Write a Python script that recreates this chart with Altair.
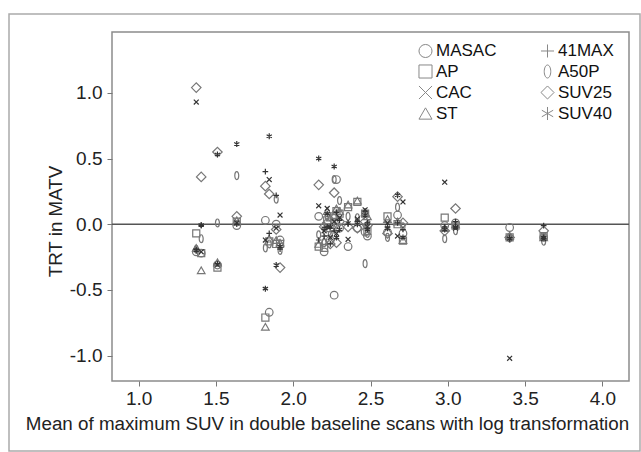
import altair as alt
import pandas as pd

# Mean of log max SUV for each lesion (x) and test-retest values per method
x_mean = [1.373, 1.405, 1.51, 1.635, 1.82, 1.845, 1.89, 1.915,
          2.165, 2.20, 2.22, 2.24, 2.265, 2.28, 2.30, 2.355, 2.415,
          2.465, 2.48, 2.61, 2.675, 2.71, 2.98, 3.05, 3.40, 3.62]

masac = [-0.21, -0.22, -0.31, -0.01, 0.03, -0.67, 0.00, -0.12,
         0.06, -0.21, -0.06, -0.12, -0.54, 0.34, -0.03, -0.17, -0.03,
         -0.06, -0.09, -0.06, 0.07, -0.07, -0.01, 0.01, -0.025, -0.10]
ap = [-0.07, -0.22, -0.33, 0.02, -0.71, -0.13, -0.15, -0.15,
      -0.17, -0.18, 0.03, -0.03, 0.06, 0.10, 0.08, 0.13, 0.17,
      0.08, -0.05, 0.06, 0.00, -0.125, 0.05, -0.01, -0.10, -0.09]
cac = [0.93, -0.21, -0.31, 0.01, -0.12, 0.34, -0.03, 0.07,
       0.14, -0.05, 0.12, -0.10, 0.02, -0.07, 0.05, -0.115, 0.04,
       0.11, -0.02, 0.01, -0.09, 0.17, 0.32, -0.03, -1.02, -0.11]
st = [-0.18, -0.35, -0.29, 0.03, -0.78, -0.11, -0.12, -0.14,
      -0.15, -0.13, 0.10, 0.05, 0.07, 0.12, 0.10, 0.15, 0.18,
      0.09, 0.06, 0.04, 0.02, -0.12, -0.03, 0.00, -0.09, -0.10]
max41 = [-0.19, -0.01, -0.30, 0.00, 0.40, -0.07, 0.22, -0.19,
         -0.12, -0.09, -0.02, -0.15, -0.05, 0.09, 0.03, 0.00, 0.02,
         0.10, 0.01, -0.02, 0.01, -0.04, -0.02, 0.02, -0.10, -0.01]
a50p = [-0.19, -0.11, 0.01, 0.37, -0.18, -0.15, 0.19, -0.20,
        -0.08, -0.14, 0.06, -0.08, 0.34, 0.00, 0.18, 0.06, 0.05,
        -0.30, -0.07, -0.10, 0.13, -0.02, -0.11, -0.05, -0.105, -0.13]
suv25 = [1.04, 0.36, 0.55, 0.06, 0.29, 0.23, -0.04, -0.33,
         0.30, -0.02, 0.01, -0.15, 0.24, -0.14, 0.02, -0.02, -0.03,
         0.02, -0.01, -0.07, 0.21, 0.01, -0.05, 0.12, -0.10, -0.05]
suv40 = [-0.20, -0.005, 0.53, 0.61, -0.49, 0.67, -0.31, -0.17,
         0.50, -0.03, 0.08, -0.02, 0.44, -0.10, -0.04, 0.01, 0.00,
         0.07, -0.04, -0.03, 0.22, -0.10, -0.04, -0.02, -0.11, -0.10]

# legend order (column-major: first column MASAC..ST, second 41MAX..SUV40)
methods = ["MASAC", "AP", "CAC", "ST", "41MAX", "A50P", "SUV25", "SUV40"]
series = {"MASAC": masac, "AP": ap, "CAC": cac, "ST": st,
          "41MAX": max41, "A50P": a50p, "SUV25": suv25, "SUV40": suv40}

rows = []
for m, vals in series.items():
    for xv, yv in zip(x_mean, vals):
        rows.append({"x": xv, "y": yv, "method": m})
df = pd.DataFrame(rows)

shape_map = {
    "MASAC": "circle",
    "41MAX": "M-1,0L1,0M0,-1L0,1",
    "AP": "square",
    "A50P": "M0,-1A0.5,1,0,1,1,0,1A0.5,1,0,1,1,0,-1Z",
    "CAC": "M-1,-1L1,1M-1,1L1,-1",
    "SUV25": "diamond",
    "ST": "triangle-up",
    "SUV40": "M0,-1L0,1M-0.87,-0.5L0.87,0.5M-0.87,0.5L0.87,-0.5",
}
size_map = {"MASAC": 58, "41MAX": 32, "AP": 50, "A50P": 62, "CAC": 24,
            "SUV25": 90, "ST": 58, "SUV40": 36}
stroke_map = {"MASAC": "#777777", "41MAX": "#333333", "AP": "#777777",
              "A50P": "#777777", "CAC": "#333333", "SUV25": "#777777",
              "ST": "#777777", "SUV40": "#333333"}

W, H = 517, 349
FONT = "Liberation Sans"
LABEL_EXPR = "datum.value < 0 ? '-' + format(-datum.value, '.1f') : format(datum.value, '.1f')"

x_enc = alt.X("x:Q", scale=alt.Scale(domain=[0.828, 4.172], nice=False, zero=False),
              axis=alt.Axis(values=[1.0, 1.5, 2.0, 2.5, 3.0, 3.5, 4.0], labelExpr=LABEL_EXPR,
                            title="Mean of maximum SUV in double baseline scans with log transformation",
                            titleX=215, titleY=42, titleBaseline="middle",
                            titleFontWeight="normal"))
y_enc = alt.Y("y:Q", scale=alt.Scale(domain=[-1.193, 1.463], nice=False, zero=False),
              axis=alt.Axis(values=[-1.0, -0.5, 0.0, 0.5, 1.0], labelExpr=LABEL_EXPR,
                            title="TRT in MATV", titleX=-57, titleY=189,
                            titleBaseline="middle", titleFontWeight="normal"))
shape_enc = alt.Shape("method:N",
                      scale=alt.Scale(domain=methods, range=[shape_map[m] for m in methods]),
                      legend=alt.Legend(title=None, orient="none", legendX=305, legendY=10,
                                        columns=2, columnPadding=41, rowPadding=2,
                                        symbolSize=170, symbolStrokeWidth=1,
                                        symbolStrokeColor="#888888", symbolFillColor="transparent",
                                        labelFontSize=17, labelFont=FONT, labelOffset=2,
                                        labelColor="#111111", padding=0))

base = alt.Chart(df)
point_layers = []
for m in ["MASAC", "AP", "ST", "A50P", "SUV25", "41MAX", "CAC", "SUV40"]:
    point_layers.append(
        base.transform_filter(alt.datum.method == m).mark_point(
            filled=False, strokeWidth=1.2, opacity=1, size=size_map[m], stroke=stroke_map[m]
        ).encode(x=x_enc, y=y_enc, shape=shape_enc)
    )

zero = alt.Chart(pd.DataFrame({"y": [0.0]})).mark_rule(color="#555555", strokeWidth=1.5).encode(
    y=alt.Y("y:Q")
)

frame = alt.Chart(pd.DataFrame({"a": [0]})).mark_rect(
    fill="transparent", stroke="#aaaaaa", strokeWidth=1.5
).encode(x=alt.value(-103), x2=alt.value(528), y=alt.value(-18), y2=alt.value(419))

chart = alt.layer(frame, zero, *point_layers).properties(
    width=W, height=H,
    autosize=alt.AutoSizeParams(type="none"),
    padding={"left": 112, "top": 32, "right": 12, "bottom": 71},
    background="white",
).configure_view(
    stroke="#8c8c8c", strokeWidth=1.5
).configure_axis(
    domain=False, grid=False, ticks=True, tickSize=5, tickColor="#777777",
    labelFont=FONT, titleFont=FONT, labelFontSize=19, titleFontSize=18.8,
    labelColor="#222222", titleColor="#222222", labelPadding=3,
).configure_axisY(labelPadding=5)

chart.save("out.html", embed_options={"renderer": "svg", "actions": False})
